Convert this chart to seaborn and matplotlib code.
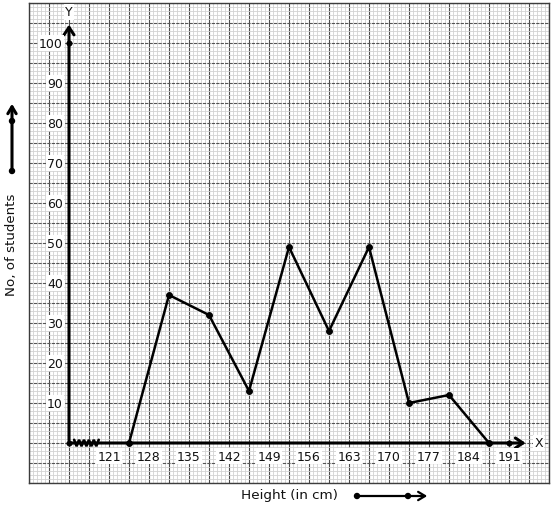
import numpy as np
import pandas as pd
import matplotlib
matplotlib.use("Agg")
import matplotlib.pyplot as plt
import seaborn as sns

# ---- data ----
class_marks = [124.5, 131.5, 138.5, 145.5, 152.5, 159.5, 166.5, 173.5, 180.5, 187.5]
students = [0, 37, 32, 13, 49, 28, 49, 10, 12, 0]
x_tick_labels = [121, 128, 135, 142, 149, 156, 163, 170, 177, 184, 191]
y_tick_labels = [10, 20, 30, 40, 50, 60, 70, 80, 90, 100]
axis_dots_x = [114, 114, 191]
axis_dots_y = [0, 100, 0]

sns.set_theme(style="white")
plt.rcParams['font.family'] = ['DejaVu Sans']

W, H = 554, 510
fig = plt.figure(figsize=(W / 100, H / 100), dpi=100)
ax = fig.add_axes([29 / W, 26 / H, 520 / W, 480 / H])
x0, x1, y0, y1 = 107, 198, -10, 110
ax.set_xlim(x0, x1)
ax.set_ylim(y0, y1)

# graph paper grid
ax.set_xticks(np.arange(x0, x1 + 0.01, 3.5))
ax.set_xticks(np.arange(x0, x1 + 0.01, 0.7), minor=True)
ax.set_yticks(np.arange(y0, y1 + 0.01, 5))
ax.set_yticks(np.arange(y0, y1 + 0.01, 1), minor=True)
ax.tick_params(which='both', length=0, labelbottom=False, labelleft=False)
ax.grid(True, which='minor', color='#d2d2d2', lw=0.6)
ax.xaxis.grid(True, which='major', color='#4a4a4a', lw=0.8)
ax.yaxis.grid(True, which='major', color='#555555', lw=0.8, linestyle=(0, (3, 1)))
ax.set_axisbelow(True)
for s in ax.spines.values():
    s.set_color('#3c3c3c')
    s.set_linewidth(1.0)

# axes lines with arrows
ax.annotate('', xy=(114, 105.3), xytext=(114, 0),
            arrowprops=dict(arrowstyle='->,head_length=0.45,head_width=0.3', lw=2.2, color='black'))
ax.annotate('', xy=(194.4, 0), xytext=(114, 0),
            arrowprops=dict(arrowstyle='->,head_length=0.45,head_width=0.3', lw=2.2, color='black'))

# zigzag break
zx = np.linspace(114.9, 119.2, 11)
zy = np.array([(-0.8 if i % 2 else 0.8) for i in range(11)])
ax.plot(zx, zy, color='black', lw=1.9, solid_joinstyle='miter')

# frequency polygon
df = pd.DataFrame({'Height': class_marks, 'Students': students})
sns.lineplot(data=df, x='Height', y='Students', color='black', lw=1.8,
             marker='o', markersize=4.2, markeredgecolor='black', ax=ax, zorder=5)
sns.scatterplot(x=axis_dots_x, y=axis_dots_y, color='black', s=16, edgecolor='black', ax=ax, zorder=6)
ax.set_xlabel('')
ax.set_ylabel('')

# tick labels
box = dict(facecolor='white', edgecolor='none', pad=1.0)
for v in y_tick_labels:
    ax.text(112.95, v, str(v), ha='right', va='center', fontsize=9, color='#111111', bbox=box, zorder=4)
for v in x_tick_labels:
    ax.text(v, -3.3, str(v), ha='center', va='center', fontsize=9, color='#111111', bbox=box, zorder=4)
ax.text(114, 107.8, 'Y', ha='center', va='center', fontsize=9, color='#111111', bbox=box, zorder=4)
ax.text(196.2, 0, 'X', ha='center', va='center', fontsize=9, color='#111111', bbox=box, zorder=4)

# outside labels & arrows
fig.text(289.5 / W, 1 - 496 / H, 'Height (in cm)', ha='center', va='center', fontsize=9.7, color='#111111')
fig.text(12 / W, 1 - 245 / H, 'No, of students', ha='center', va='center', rotation=90,
         fontsize=9.6, color='#111111')

def fp(px, py):
    return (px, H - py)

fig.add_artist(matplotlib.patches.FancyArrowPatch(fp(12, 172), fp(12, 102), transform=None,
               arrowstyle='->,head_length=5,head_width=3', lw=2.2, color='black'))
fig.add_artist(matplotlib.patches.FancyArrowPatch(fp(357, 497), fp(430, 497), transform=None,
               arrowstyle='->,head_length=5,head_width=3', lw=1.6, color='black'))
for (px, py) in [(12, 172), (12, 122), (357, 497), (408, 497)]:
    fig.add_artist(matplotlib.patches.Circle(fp(px, py), 2.5, transform=None, color='black'))

fig.savefig('out.png', dpi=100, facecolor='white')
